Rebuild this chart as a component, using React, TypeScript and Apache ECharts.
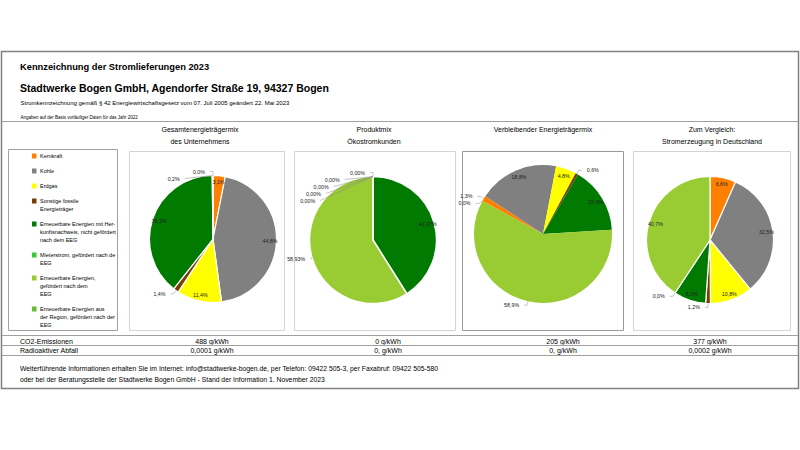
import React, { useEffect, useRef } from 'react';
import * as echarts from 'echarts';

const categories = [
  'Kernkraft',
  'Kohle',
  'Erdgas',
  'Sonstige fossile Energieträger',
  'Erneuerbare Energien mit Herkunftsnachweis, nicht gefördert nach dem EEG',
  'Mieterstrom, gefördert nach dem EEG',
  'Erneuerbare Energien, gefördert nach dem EEG',
  'Erneuerbare Energien aus der Region, gefördert nach der EEG',
];
const legendLabels = [
  'Kernkraft',
  'Kohle',
  'Erdgas',
  'Sonstige fossile\nEnergieträger',
  'Erneuerbare Energien mit Her-\nkunftsnachweis, nicht gefördert\nnach dem EEG',
  'Mieterstrom, gefördert nach de\nEEG',
  'Erneuerbare Energien,\ngefördert nach dem\nEEG',
  'Erneuerbare Energien aus\nder Region, gefördert nach der\nEEG',
];
const colors = ['#ff8000', '#808080', '#ffff00', '#7a3d0a', '#007a00', '#33cc33', '#99cc33', '#66bb33'];

const chartTitles = [
  'Gesamtenergieträgermix\ndes Unternehmens',
  'Produktmix\nÖkostromkunden',
  'Verbleibender Energieträgermix',
  'Zum Vergleich:\nStromerzeugung in Deutschland',
];
const gesamtmix = [3.1, 44.8, 11.4, 1.4, 39.2, 0.2, 0.0, null];
const produktmix = [0, 0, 0, 0, 41.07, null, 58.93, 0];
const verbleibend = [1.3, 18.8, 4.8, 0.6, 15.6, null, 58.9, 0.0];
const deutschland = [6.6, 32.5, 10.8, 1.2, 8.2, 0.0, 40.7, null];

const rowLabels = ['CO2-Emissionen', 'Radioaktiver Abfall'];
const co2 = ['488 g/kWh', '0 g/kWh', '205 g/kWh', '377 g/kWh'];
const radioaktiv = ['0,0001 g/kWh', '0, g/kWh', '0, g/kWh', '0,0002 g/kWh'];

const FONT = "'Liberation Sans', Arial, sans-serif";

const pieLayouts = [
  { values: gesamtmix, center: [213, 239], r: 63.5, startAngle: 90, decimals: 1, border: 1.2, outside: [3, 5, 6], titleX: 200, box: [129.5, 151.5, 155, 179], boxColor: '#d4d4d4', valueX: 212 },
  { values: produktmix, center: [373, 240], r: 63.5, startAngle: 90, decimals: 2, border: 1.5, outside: [0, 1, 2, 3, 6, 7], titleX: 374, box: [294.5, 151.5, 161, 179], boxColor: '#d4d4d4', valueX: 388 },
  { values: verbleibend, center: [543, 234], r: 69, startAngle: 151.4, decimals: 1, border: 0, outside: [0, 3, 6, 7], titleX: 543, box: [462.5, 151.5, 161, 179], boxColor: '#9a9a9a', valueX: 563 },
  { values: deutschland, center: [710, 240], r: 63.5, startAngle: 90, decimals: 1, border: 1.2, outside: [3, 5], titleX: 712, box: [633.5, 151.5, 157, 179], boxColor: '#d4d4d4', valueX: 710 },
];

function buildOption() {
  const series: any[] = [];
  const graphic: any[] = [];

  // outer frame & header
  graphic.push({ type: 'rect', shape: { x: 1.5, y: 51.5, width: 797, height: 337 }, style: { fill: 'none', stroke: '#808080', lineWidth: 1.5 } });
  graphic.push({ type: 'text', x: 20, y: 67, style: { text: 'Kennzeichnung der Stromlieferungen 2023', font: `bold 9.3px ${FONT}`, fill: '#000', verticalAlign: 'middle' } });
  graphic.push({ type: 'text', x: 20, y: 88, style: { text: 'Stadtwerke Bogen GmbH, Agendorfer Straße 19, 94327 Bogen', font: `bold 10.5px ${FONT}`, fill: '#000', verticalAlign: 'middle' } });
  graphic.push({ type: 'text', x: 20.5, y: 102.5, style: { text: 'Stromkennzeichnung gemäß § 42 Energiewirtschaftsgesetz vom 07. Juli 2005 geändert 22. Mai 2023', font: `6px ${FONT}`, fill: '#000', verticalAlign: 'middle' } });
  graphic.push({ type: 'text', x: 20.5, y: 117, style: { text: 'Angaben auf der Basis vorläufiger Daten für das Jahr 2022', font: `4.5px ${FONT}`, fill: '#000', verticalAlign: 'middle' } });
  graphic.push({ type: 'line', shape: { x1: 2, y1: 121.5, x2: 798, y2: 121.5 }, style: { stroke: '#a0a0a0', lineWidth: 1 } });

  // legend box and items
  graphic.push({ type: 'rect', shape: { x: 8.5, y: 149.5, width: 109, height: 181 }, style: { fill: 'none', stroke: '#a0a0a0', lineWidth: 1 } });
  let ly = 156;
  categories.forEach((c, i) => {
    const lines = legendLabels[i].split('\n').length;
    graphic.push({ type: 'rect', shape: { x: 32, y: ly - 2.5, width: 4.5, height: 5 }, style: { fill: colors[i] } });
    graphic.push({ type: 'text', x: 40, y: ly - 4, style: { text: legendLabels[i], font: `5.5px ${FONT}`, lineHeight: 8, fill: '#000', verticalAlign: 'top' } });
    ly += lines * 8 + 7;
  });

  pieLayouts.forEach((p, k) => {
    graphic.push({ type: 'rect', shape: { x: p.box[0], y: p.box[1], width: p.box[2], height: p.box[3] }, style: { fill: 'none', stroke: p.boxColor, lineWidth: 1 } });
    graphic.push({ type: 'text', x: p.titleX, y: 124, style: { text: chartTitles[k], font: `7px ${FONT}`, lineHeight: 11.5, fill: '#000', align: 'center', verticalAlign: 'top' } });

    const items: any[] = [];
    p.values.forEach((v, i) => {
      if (v === null) return;
      items.push({ name: categories[i], value: v, idx: i, itemStyle: { color: colors[i] } });
    });
    const fmt = (params: any) => Number(params.value).toFixed(p.decimals).replace('.', ',') + '%';
    series.push({
      type: 'pie', center: p.center, radius: p.r, startAngle: p.startAngle, clockwise: true,
      silent: true, avoidLabelOverlap: false,
      label: { show: false }, labelLine: { show: false },
      itemStyle: { borderColor: '#ffffff', borderWidth: p.border },
      emphasis: { disabled: true },
      data: items,
    });
    series.push({
      type: 'pie', center: p.center, radius: [p.r * 0.7, p.r], startAngle: p.startAngle, clockwise: true,
      silent: true, avoidLabelOverlap: true, z: 5,
      itemStyle: { color: 'transparent', borderWidth: 0 },
      emphasis: { disabled: true },
      label: { show: true, formatter: fmt, fontSize: 5.3, fontFamily: FONT, color: '#222' },
      labelLine: { length: 4, length2: 3, lineStyle: { color: '#888', width: 0.5 } },
      data: items.map((it) => {
        const out = p.outside.indexOf(it.idx) >= 0;
        return {
          name: it.name, value: it.value,
          itemStyle: { color: 'transparent' },
          label: { position: out ? 'outside' : 'inside' },
          labelLine: { show: out },
        };
      }),
    });

    graphic.push({ type: 'text', x: p.valueX, y: 341, style: { text: co2[k], font: `7px ${FONT}`, fill: '#000', align: 'center', verticalAlign: 'middle' } });
    graphic.push({ type: 'text', x: p.valueX, y: 350.5, style: { text: radioaktiv[k], font: `7px ${FONT}`, fill: '#000', align: 'center', verticalAlign: 'middle' } });
  });

  // table
  [335.5, 345.5, 355.5].forEach((y) => {
    graphic.push({ type: 'line', shape: { x1: 2, y1: y, x2: 798, y2: y }, style: { stroke: '#a0a0a0', lineWidth: 1 } });
  });
  graphic.push({ type: 'text', x: 20, y: 341, style: { text: rowLabels[0], font: `7px ${FONT}`, fill: '#000', verticalAlign: 'middle' } });
  graphic.push({ type: 'text', x: 20, y: 350.5, style: { text: rowLabels[1], font: `7px ${FONT}`, fill: '#000', verticalAlign: 'middle' } });

  // footer
  graphic.push({ type: 'text', x: 20, y: 368, style: { text: 'Weiterführende Informationen erhalten Sie im Internet: info@stadtwerke-bogen.de, per Telefon: 09422 505-3, per Faxabruf: 09422 505-580', font: `6.8px ${FONT}`, fill: '#000', verticalAlign: 'middle' } });
  graphic.push({ type: 'text', x: 20, y: 379, style: { text: 'oder bei der Beratungsstelle der Stadtwerke Bogen GmbH - Stand der Information 1. November 2023', font: `6.8px ${FONT}`, fill: '#000', verticalAlign: 'middle' } });

  return {
    animation: false,
    backgroundColor: '#ffffff',
    graphic,
    series,
  };
}

export default function App() {
  const ref = useRef<HTMLDivElement>(null);
  useEffect(() => {
    if (!ref.current) return;
    const chart = echarts.init(ref.current, undefined, { renderer: 'svg' });
    chart.setOption(buildOption() as any);
    return () => chart.dispose();
  }, []);
  return <div ref={ref} style={{ position: 'absolute', left: 0, top: 0, width: 800, height: 450, background: '#fff' }} />;
}
